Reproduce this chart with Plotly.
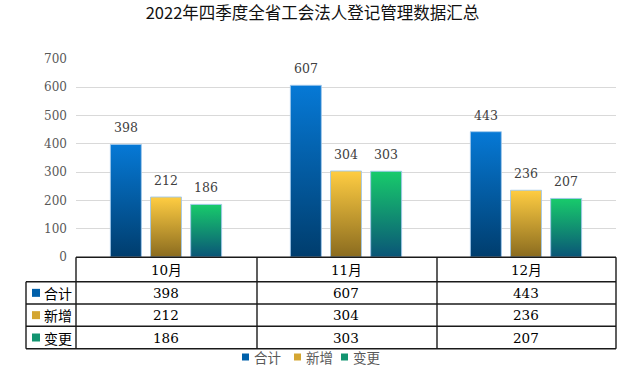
import plotly.graph_objects as go

# ---- data ----
months = ["10月", "11月", "12月"]
series_names = ["合计", "新增", "变更"]
total = [398, 607, 443]
added = [212, 304, 236]
changed = [186, 303, 207]
y_ticks = [0, 100, 200, 300, 400, 500, 600, 700]
title_text = "2022年四季度全省工会法人登记管理数据汇总"

series_values = [total, added, changed]
# (top colour, bottom colour) per series
grad = [("#0679D6", "#003D6D"), ("#FFCD42", "#8A6B1F"), ("#18CB6B", "#0A5577")]
mid = ["#0060AA", "#D4A632", "#129470"]

W, H = 625, 369
L, R, T, B = 76, 616, 59, 257

def px(x):
    return (x - L) / (R - L)

def py(y):
    return (B - y) / (B - T)

NUM_FONT = "DejaVu Serif, Noto Sans CJK SC"
CJK_FONT = "Noto Sans CJK SC, DejaVu Serif"

offsets = [-0.223, 0.0, 0.223]
half_w = 0.086

fig = go.Figure()
annotations = []

for j, (name, vals) in enumerate(zip(series_names, series_values)):
    top_c, bot_c = grad[j]
    for i, v in enumerate(vals):
        c = i + offsets[j]
        fig.add_trace(go.Scatter(
            x=[c - half_w, c - half_w, c + half_w, c + half_w, c - half_w],
            y=[0, v, v, 0, 0],
            mode="lines",
            fill="toself",
            fillgradient=dict(type="vertical", colorscale=[[0, bot_c], [1, top_c]]),
            line=dict(color="rgba(160,200,235,0.9)", width=1),
            name=name,
            showlegend=False,
            hovertemplate=f"{months[i]} {name}: {v}<extra></extra>",
        ))
        annotations.append(dict(
            x=c, y=v, xref="x", yref="y", text=str(v), showarrow=False,
            yanchor="bottom", yshift=7,
            font=dict(family=NUM_FONT, size=12.5, color="#404040"),
        ))

shapes = []
line_style = dict(color="#1a1a1a", width=1.4)

def hline(y, x0, x1):
    shapes.append(dict(type="line", xref="paper", yref="paper",
                       x0=px(x0), x1=px(x1), y0=py(y), y1=py(y), line=line_style, layer="above"))

def vline(x, y0, y1):
    shapes.append(dict(type="line", xref="paper", yref="paper",
                       x0=px(x), x1=px(x), y0=py(y0), y1=py(y1), line=line_style, layer="above"))

row_y = [257.3, 281.7, 304.0, 326.3, 348.7]
col_x = [L, 257, 437, R]
label_left = 26

hline(row_y[0], L, R)
for yy in row_y[1:]:
    hline(yy, label_left, R)
for xx in col_x:
    vline(xx, row_y[0], row_y[-1])
vline(label_left, row_y[1], row_y[-1])

# header row: month names
for i, m in enumerate(months):
    annotations.append(dict(
        x=i, y=py((row_y[0] + row_y[1]) / 2), xref="x", yref="paper", text=m,
        showarrow=False, yanchor="middle",
        font=dict(family=NUM_FONT, size=13.5, color="#000000"),
    ))

# data rows
for j, (name, vals) in enumerate(zip(series_names, series_values)):
    yc = (row_y[j + 1] + row_y[j + 2]) / 2
    shapes.append(dict(type="rect", xref="paper", yref="paper",
                       x0=px(32), x1=px(40), y0=py(yc - 4), y1=py(yc + 4),
                       fillcolor=mid[j], line=dict(width=0), layer="above"))
    annotations.append(dict(
        x=px(42), y=py(yc), xref="paper", yref="paper", text=name, showarrow=False,
        xanchor="left", yanchor="middle",
        font=dict(family=CJK_FONT, size=14, color="#000000"),
    ))
    for i, v in enumerate(vals):
        annotations.append(dict(
            x=i, y=py(yc), xref="x", yref="paper", text=str(v), showarrow=False,
            yanchor="middle",
            font=dict(family=NUM_FONT, size=13.5, color="#000000"),
        ))

# manual legend
leg_sq_x = [242, 294, 341]
leg_y = 357
for j, name in enumerate(series_names):
    shapes.append(dict(type="rect", xref="paper", yref="paper",
                       x0=px(leg_sq_x[j]), x1=px(leg_sq_x[j] + 7),
                       y0=py(leg_y - 3.5), y1=py(leg_y + 3.5),
                       fillcolor=mid[j], line=dict(width=0)))
    annotations.append(dict(
        x=px(leg_sq_x[j] + 10), y=py(leg_y), xref="paper", yref="paper", text=name,
        showarrow=False, xanchor="left", yanchor="middle",
        font=dict(family=CJK_FONT, size=13.5, color="#595959"),
    ))

fig.update_layout(
    width=W, height=H,
    margin=dict(l=L, r=W - R, t=T, b=H - B),
    paper_bgcolor="white", plot_bgcolor="white",
    showlegend=False,
    title=dict(text=title_text, x=0.5, xanchor="center", y=1 - 13.5 / H, yanchor="middle",
               font=dict(family=CJK_FONT, size=16.5, color="#111111")),
    xaxis=dict(range=[-0.5, 2.5], showticklabels=False, showgrid=False, zeroline=False,
               fixedrange=True),
    yaxis=dict(range=[0, 700], tickvals=y_ticks, showgrid=True, gridcolor="#D9D9D9",
               gridwidth=1.2, zeroline=False, ticklabelstandoff=8,
               tickfont=dict(family=NUM_FONT, size=12, color="#595959"), fixedrange=True),
    shapes=shapes,
    annotations=annotations,
)

fig.write_html("out.html", config={"displayModeBar": False},
               post_script="document.body.style.margin='0';document.body.style.padding='0';document.body.style.overflow='hidden';")
